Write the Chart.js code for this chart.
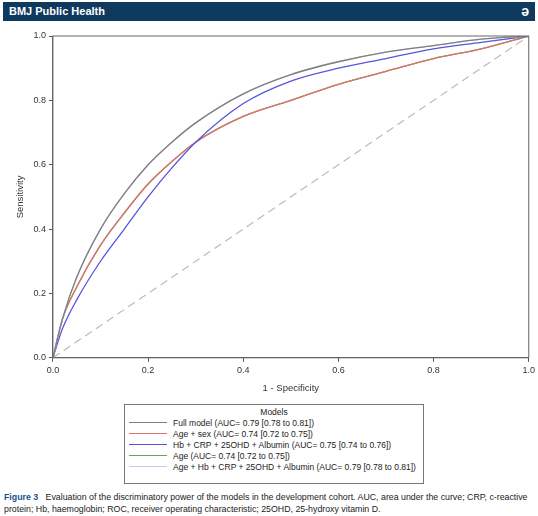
<!DOCTYPE html>
<html><head><meta charset="utf-8">
<script src="https://cdn.jsdelivr.net/npm/chart.js@4/dist/chart.umd.min.js"></script>
<style>
body{margin:0;width:538px;height:516px;background:#fff;font-family:"Liberation Sans",Arial,sans-serif;position:relative;overflow:hidden}
#hdr{position:absolute;left:3px;top:2px;width:532px;height:19px;background:#0f3a5f;color:#fff;font-weight:bold;font-size:11px;line-height:19px;padding-left:6px;box-sizing:border-box}
#hdr span{position:absolute;right:6px;top:0;font-size:14px}
#wrap{position:absolute;left:0;top:26px;width:538px;height:372px}
#leg{position:absolute;left:124px;top:404px;width:300px;height:80px;border:1px solid #777;font-size:8.5px;color:#222;box-sizing:border-box;overflow:hidden}
#leg .t{text-align:center;margin-top:2px}
#leg .r{height:11px;display:flex;align-items:center}
#leg .l{width:38px;height:0;border-top:1.5px solid;margin:0 6px 0 4px}
#cap{position:absolute;left:4px;top:491px;width:532px;font-size:8.8px;line-height:12px;color:#222}
</style></head><body>
<div id="hdr">BMJ Public Health<span>&#x0259;</span></div>
<div id="wrap"><canvas id="c"></canvas></div>
<div id="leg"></div>
<div id="cap"><b style="color:#1f4f86">Figure 3</b>&nbsp;&nbsp; Evaluation of the discriminatory power of the models in the development cohort. AUC, area under the curve; CRP, c-reactive protein; Hb, haemoglobin; ROC, receiver operating characteristic; 25OHD, 25-hydroxy vitamin D.</div>
<script>
const fpr = [0, 0.02, 0.05, 0.1, 0.15, 0.2, 0.25, 0.3, 0.4, 0.5, 0.6, 0.7, 0.8, 0.9, 1];
const fullModel = [0, 0.12, 0.25, 0.40, 0.51, 0.60, 0.67, 0.73, 0.82, 0.88, 0.92, 0.95, 0.97, 0.99, 1];
const ageSex = [0, 0.12, 0.22, 0.35, 0.45, 0.54, 0.61, 0.67, 0.75, 0.80, 0.85, 0.89, 0.93, 0.96, 1];
const bioMarkers = [0, 0.09, 0.18, 0.30, 0.40, 0.50, 0.59, 0.67, 0.79, 0.86, 0.90, 0.93, 0.96, 0.98, 1];
const ageOnly = [0, 0.12, 0.22, 0.35, 0.45, 0.54, 0.61, 0.67, 0.75, 0.80, 0.85, 0.89, 0.93, 0.96, 1];
const ageBio = [0, 0.12, 0.25, 0.40, 0.51, 0.60, 0.67, 0.73, 0.82, 0.88, 0.92, 0.95, 0.97, 0.99, 1];
const labels = ["Full model (AUC= 0.79 [0.78 to 0.81])", "Age + sex (AUC= 0.74 [0.72 to 0.75])",
  "Hb + CRP + 25OHD + Albumin (AUC= 0.75 [0.74 to 0.76])", "Age (AUC= 0.74 [0.72 to 0.75])",
  "Age + Hb + CRP + 25OHD + Albumin (AUC= 0.79 [0.78 to 0.81])"];
const colors = ["#808080", "#e07070", "#5555dd", "#66aa55", "#c8c8ee"];
const series = [fullModel, ageSex, bioMarkers, ageOnly, ageBio];
const ticks = [0, 0.2, 0.4, 0.6, 0.8, 1.0];

const leg = document.getElementById("leg");
leg.innerHTML = '<div class="t">Models</div>' + labels.map((l, i) =>
  `<div class="r"><div class="l" style="border-color:${colors[i]}"></div>${l}</div>`).join("");

const order = [0, 3, 2, 4, 1];
const datasets = series.map((s, i) => ({
  data: s.map((y, k) => ({x: fpr[k], y})), borderColor: colors[i], borderWidth: 1.3,
  showLine: true, pointRadius: 0, cubicInterpolationMode: "monotone", order: order[i]
}));
datasets.push({data: [{x: 0, y: 0}, {x: 1, y: 1}], borderColor: "#bbb", borderWidth: 1.2,
  borderDash: [8, 5], showLine: true, pointRadius: 0, order: 9});

const frame = {id: "frame", afterDraw(ch) {
  const a = ch.chartArea, c = ch.ctx; c.save(); c.strokeStyle = "#666"; c.lineWidth = 1;
  c.strokeRect(a.left, a.top, a.right - a.left, a.bottom - a.top); c.restore();
}};
const ax = (title) => ({
  type: "linear", min: 0, max: 1, afterBuildTicks: s => { s.ticks = ticks.map(v => ({value: v})); },
  grid: {drawOnChartArea: false, tickLength: 4, color: "#555"}, border: {color: "#666"},
  ticks: {color: "#333", font: {size: 9}, callback: v => v.toFixed(1)},
  title: {display: true, text: title, color: "#333", font: {size: 9.5}}
});
new Chart(document.getElementById("c"), {
  type: "scatter", data: {datasets}, plugins: [frame],
  options: {responsive: true, maintainAspectRatio: false, animation: false,
    layout: {padding: {top: 10, right: 9, left: 11}},
    plugins: {legend: {display: false}, tooltip: {enabled: false}},
    scales: {x: ax("1 - Specificity"), y: ax("Sensitivity")}}
});
</script></body></html>
